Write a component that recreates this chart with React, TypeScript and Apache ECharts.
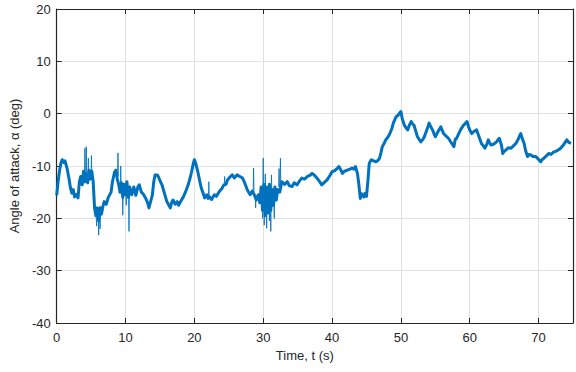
import React, { useEffect, useRef } from "react";
import * as echarts from "echarts";

// Angle-of-attack record: slow trend of the signal
const timeS: number[] = [
  0.0, 0.2, 0.4, 0.6, 0.8, 1.0, 1.2, 1.5, 1.8, 2.0, 2.2, 2.4, 2.6, 2.9, 3.1, 3.3, 3.5, 3.7, 3.9, 4.1,
  4.3, 4.5, 4.7, 4.9, 5.1, 5.3, 5.5, 5.7, 5.9, 6.1, 6.3, 6.5, 6.7, 6.9, 7.2, 7.5, 7.9, 8.1, 8.4, 8.6,
  8.8, 9.0, 9.2, 9.4, 9.6, 9.8, 10.0, 10.2, 10.4, 10.6, 10.9, 11.2, 11.5, 11.8, 12.0, 12.3, 12.6, 12.9, 13.2, 13.4,
  13.7, 13.9, 14.1, 14.3, 14.6, 14.8, 15.0, 15.3, 15.6, 16.0, 16.3, 16.5, 16.7, 16.9, 17.2, 17.5, 17.7, 18.0, 18.4, 18.7,
  19.1, 19.4, 19.6, 19.8, 20.0, 20.2, 20.5, 20.8, 21.0, 21.3, 21.5, 21.8, 22.0, 22.2, 22.5, 22.9, 23.2, 23.6, 24.0, 24.3,
  24.6, 24.8, 25.1, 25.5, 25.8, 26.2, 26.6, 27.0, 27.3, 27.7, 28.1, 28.4, 28.7, 29.0, 29.3, 29.5, 29.7, 29.9, 30.1, 30.3,
  30.5, 30.7, 30.9, 31.1, 31.3, 31.5, 31.7, 31.9, 32.1, 32.4, 32.7, 33.1, 33.5, 33.8, 34.2, 34.5, 34.9, 35.2, 35.6, 36.0,
  36.4, 36.8, 37.1, 37.4, 37.8, 38.2, 38.5, 39.0, 39.3, 39.6, 40.0, 40.4, 40.8, 41.0, 41.3, 41.5, 41.8, 42.2, 42.6, 42.9,
  43.2, 43.4, 43.7, 43.9, 44.1, 44.3, 44.6, 44.8, 45.0, 45.2, 45.4, 45.7, 46.0, 46.4, 46.7, 46.9, 47.1, 47.3, 47.6, 47.8,
  48.1, 48.4, 48.7, 48.9, 49.1, 49.3, 49.6, 49.8, 50.0, 50.2, 50.5, 50.8, 51.0, 51.2, 51.5, 51.7, 51.9, 52.2, 52.4, 52.7,
  52.9, 53.2, 53.4, 53.8, 54.1, 54.3, 54.6, 54.8, 55.0, 55.4, 55.8, 56.0, 56.2, 56.5, 56.9, 57.3, 57.7, 57.9, 58.1, 58.4,
  58.7, 59.1, 59.4, 59.6, 59.8, 60.0, 60.3, 60.6, 61.0, 61.3, 61.7, 62.0, 62.2, 62.5, 62.7, 62.9, 63.1, 63.5, 63.9, 64.1,
  64.3, 64.6, 64.8, 65.0, 65.3, 65.6, 66.0, 66.3, 66.7, 67.0, 67.2, 67.4, 67.6, 67.9, 68.1, 68.4, 68.6, 68.9, 69.2, 69.6,
  69.9, 70.3, 70.5, 70.8, 71.1, 71.5, 71.8, 72.2, 72.5, 72.9, 73.2, 73.6, 73.9, 74.1, 74.4, 74.7,
];

const alphaDeg: number[] = [
  -15.6, -13.0, -11.0, -9.5, -8.8, -9.3, -9.0, -10.4, -12.5, -14.2, -15.2, -14.5, -15.9, -15.4, -16.1, -13.0, -12.0, -13.6, -11.0, -13.0,
  -11.5, -13.2, -10.8, -12.5, -11.0, -13.0, -18.0, -19.5, -18.0, -20.5, -18.0, -19.2, -17.8, -16.8, -17.3, -16.0, -15.0, -13.0, -11.2, -10.8,
  -12.5, -13.5, -15.0, -13.2, -16.0, -13.5, -15.5, -13.0, -16.0, -14.0, -15.5, -14.0, -15.6, -14.0, -13.6, -15.0, -15.4, -16.1, -17.0, -18.0,
  -16.5, -15.5, -13.0, -11.7, -11.7, -12.1, -12.8, -13.6, -15.0, -16.8, -17.5, -18.0, -17.0, -16.5, -17.3, -16.8, -17.5, -16.8, -15.9, -15.0,
  -13.6, -12.2, -11.1, -9.8, -8.8, -9.5, -11.1, -13.0, -14.2, -15.3, -16.1, -15.5, -16.2, -15.9, -16.4, -15.5, -15.8, -14.9, -14.3, -13.6,
  -13.5, -12.7, -12.2, -11.7, -12.3, -11.7, -12.0, -12.3, -13.2, -14.6, -15.5, -14.8, -15.5, -16.5, -15.5, -17.0, -14.0, -18.5, -13.5, -19.5,
  -14.0, -19.0, -13.5, -18.5, -14.5, -17.5, -14.0, -16.5, -14.5, -15.0, -13.0, -13.5, -13.0, -13.8, -13.9, -13.2, -13.6, -13.0, -12.3, -12.5,
  -12.0, -11.8, -11.4, -11.7, -12.3, -13.0, -13.6, -13.0, -12.6, -12.0, -11.1, -10.9, -10.4, -10.1, -10.8, -11.4, -11.0, -10.8, -10.6, -10.4,
  -10.6, -10.1, -11.5, -13.6, -16.2, -15.3, -15.9, -15.2, -15.8, -13.0, -9.5, -8.8, -9.0, -9.2, -8.9, -8.5, -7.5, -6.3, -5.6, -5.0,
  -4.5, -3.8, -2.8, -1.8, -1.2, -0.6, -0.3, 0.1, 0.4, -1.0, -2.2, -2.8, -3.1, -2.3, -1.5, -2.0, -2.2, -3.5, -4.4, -5.0,
  -5.4, -4.9, -4.4, -3.0, -1.8, -2.4, -3.1, -3.8, -4.4, -3.4, -2.5, -3.2, -3.8, -4.2, -4.7, -5.5, -6.3, -4.9, -4.7, -3.8,
  -3.0, -2.2, -1.8, -1.5, -2.4, -3.1, -3.8, -3.4, -3.1, -4.2, -5.7, -6.2, -6.6, -5.8, -5.0, -5.6, -6.0, -5.8, -5.4, -5.0,
  -4.7, -6.0, -7.6, -7.2, -6.9, -6.5, -6.6, -6.2, -5.7, -5.0, -4.4, -3.8, -4.6, -5.7, -7.0, -8.2, -7.8, -7.9, -8.2, -8.2,
  -8.6, -9.2, -8.8, -8.5, -8.1, -7.6, -7.8, -7.3, -7.2, -6.9, -6.6, -6.0, -5.4, -5.0, -5.5, -5.7,
];

// Short sensor excursions: time, level they leave from, extreme reached
const spikeT: number[] = [
  4.1, 4.3, 4.6, 5.05, 5.8, 6.1, 6.3, 8.9, 9.3, 9.6, 10.1, 10.5, 22.1, 24.4,
  28.6, 28.9, 29.9, 30.0, 30.15, 30.3, 30.5, 30.9, 31.1, 31.2, 31.6, 32.3, 32.5,
];
const spikeFrom: number[] = [
  -12.0, -12.0, -12.0, -12.0, -19.0, -19.0, -18.5, -12.0, -14.0, -15.0, -14.0, -15.0, -16.0, -13.5,
  -15.0, -15.5, -16.0, -16.0, -16.0, -16.0, -16.0, -16.0, -16.0, -16.0, -16.0, -14.0, -14.0,
];
const spikePeak: number[] = [
  -6.6, -6.3, -8.5, -8.0, -21.5, -23.2, -22.0, -7.5, -10.0, -19.4, -17.5, -22.5, -13.0, -12.0,
  -10.4, -18.0, -20.0, -8.5, -21.3, -11.5, -21.9, -20.5, -22.5, -11.7, -20.0, -10.5, -8.5,
];

const xTicks = [0, 10, 20, 30, 40, 50, 60, 70];
const yTicks = [-40, -30, -20, -10, 0, 10, 20];

const xLabel = "Time, t (s)";
const yLabel = "Angle of attack, \u03b1 (deg)";

const INK = "#262626";
const GRID = "#e0e0e0";
const LINE = "#0072BD";
const FONT = "Liberation Sans, Arial, Helvetica, sans-serif";

export default function App() {
  const ref = useRef<HTMLDivElement>(null);

  useEffect(() => {
    if (!ref.current) return;
    const chart = echarts.init(ref.current, undefined, { renderer: "svg" });

    const trend = timeS.map((t, i) => [t, alphaDeg[i]]);
    const spikes: (number[] | null)[] = [];
    spikeT.forEach((t, i) => {
      spikes.push([t - 0.06, spikeFrom[i]], [t, spikePeak[i]], [t + 0.06, spikeFrom[i]], null);
    });

    const tickStyle = { show: true, inside: true, length: 5, lineStyle: { color: INK, width: 1 } };
    const lineStyle = { show: true, onZero: false, lineStyle: { color: INK, width: 1.2 } };
    const labelFont = { color: INK, fontFamily: FONT, fontSize: 13 };

    chart.setOption({
      animation: false,
      backgroundColor: "#ffffff",
      grid: { left: 53, top: 9, width: 525, height: 314, containLabel: false },
      xAxis: [
        {
          type: "value",
          min: 0,
          max: 75,
          interval: 10,
          axisLine: lineStyle,
          axisTick: tickStyle,
          splitLine: { show: true, lineStyle: { color: GRID, width: 1 } },
          axisLabel: {
            ...labelFont,
            margin: 8,
            formatter: (v: number) => (xTicks.includes(v) ? String(v) : ""),
          },
          name: xLabel,
          nameLocation: "middle",
          nameGap: 25,
          nameTextStyle: { ...labelFont, padding: [0, 20, 0, 0] },
        },
        {
          type: "value",
          position: "top",
          min: 0,
          max: 75,
          interval: 10,
          axisLine: lineStyle,
          axisTick: tickStyle,
          axisLabel: { show: false },
          splitLine: { show: false },
        },
      ],
      yAxis: [
        {
          type: "value",
          min: -40,
          max: 20,
          interval: 10,
          axisLine: lineStyle,
          axisTick: tickStyle,
          splitLine: { show: true, lineStyle: { color: GRID, width: 1 } },
          axisLabel: {
            ...labelFont,
            margin: 6,
            formatter: (v: number) => (yTicks.includes(v) ? String(v) : ""),
          },
          name: yLabel,
          nameLocation: "middle",
          nameGap: 30,
          nameRotate: 90,
          nameTextStyle: labelFont,
        },
        {
          type: "value",
          position: "right",
          min: -40,
          max: 20,
          interval: 10,
          axisLine: lineStyle,
          axisTick: tickStyle,
          axisLabel: { show: false },
          splitLine: { show: false },
        },
      ],
      series: [
        {
          type: "line",
          xAxisIndex: 0,
          yAxisIndex: 0,
          data: spikes,
          connectNulls: false,
          showSymbol: false,
          symbol: "none",
          lineStyle: { color: LINE, width: 1, opacity: 0.85 },
          clip: true,
          z: 2,
        },
        {
          type: "line",
          xAxisIndex: 0,
          yAxisIndex: 0,
          data: trend,
          showSymbol: false,
          symbol: "none",
          lineStyle: { color: LINE, width: 3, join: "round" },
          clip: true,
          z: 3,
        },
      ],
    });

    return () => chart.dispose();
  }, []);

  return (
    <div
      ref={ref}
      style={{ position: "fixed", left: 0, top: 0, width: 576, height: 372, background: "#fff" }}
    />
  );
}
